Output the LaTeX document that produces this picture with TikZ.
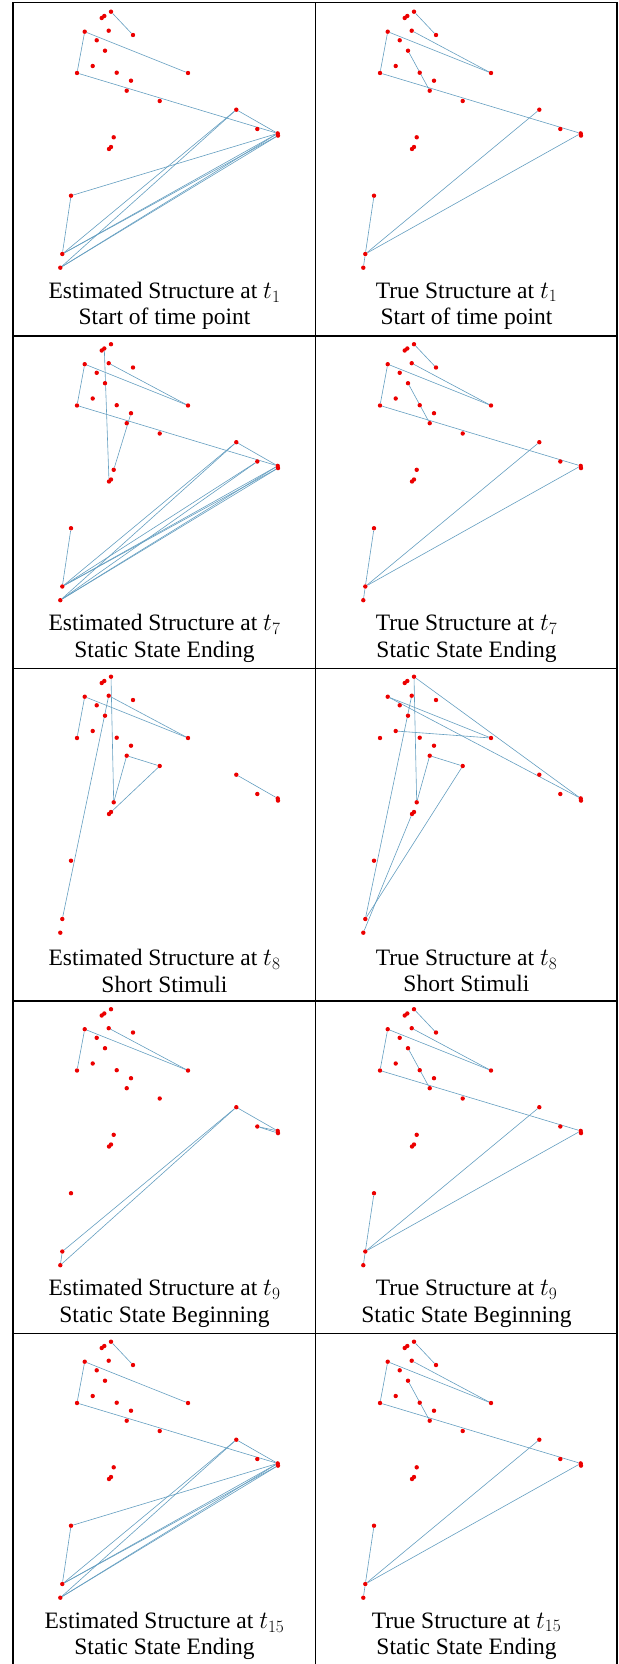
\documentclass[tikz,border=0pt]{standalone}
\usepackage{fontspec}
\setmainfont{Liberation Serif}
\usetikzlibrary{positioning}
\definecolor{dotred}{RGB}{235,0,0}
\definecolor{edgeblue}{RGB}{100,158,192}
\pgfdeclarelayer{bg}
\pgfsetlayers{bg,main}
\tikzset{
  vtx/.style={circle,fill=dotred,inner sep=0pt,minimum size=4.4pt},
  link/.style={draw=edgeblue,line width=0.6pt},
  tabrule/.style={draw=black,line width=1.2pt},
  capt/.style={align=center,font=\fontsize{23.5}{26.5}\selectfont},
}
% same dot layout in every panel
\newcommand{\dotlayout}{%
  \foreach \nm/\px/\py in {a/111.0/11.7, b/104.3/16.0, c/101.7/18.0, d/133.0/35.0,
      e/84.7/31.7, f/108.7/30.7, g/96.7/40.3, h/105.0/50.7, i/188.0/73.0,
      j/77.0/73.0, k/92.7/66.0, l/116.7/72.7, m/131.0/80.7, n/126.7/90.7,
      o/159.7/101.0, p/236.3/109.7, q/257.3/129.0, r/277.7/133.4, rr/278.0/135.6,
      s/113.7/137.3, t/111.0/147.0, u/109.0/149.0, v/71.0/195.7, w/62.3/254.0,
      x/60.3/267.7}
    \node[vtx] (\nm) at (\px,\py) {};
}
\newcommand{\graphlinks}[1]{%
  \edef\linklist{#1}%
  \begin{pgfonlayer}{bg}
    \foreach \src/\dst in \linklist
      \draw[link] (\src) -- (\dst);
  \end{pgfonlayer}
}
\newcommand{\graphpanel}[4]{% prefix, shift x, shift y, links
  \begin{scope}[shift={(#2,#3)},name prefix=#1-]
    \dotlayout
    \graphlinks{#4}
  \end{scope}
}
\newcommand{\truelinks}{a/d, f/i, e/i, e/j, h/n, j/r, p/w, r/w, v/w, w/x}
\newcommand{\estlinks}{a/d, e/i, e/j, j/r, p/r, p/w, p/x, r/v, v/w, r/w, rr/w, r/x, rr/x}

\begin{document}
\begin{tikzpicture}[x=1pt,y=-1pt]
\useasboundingbox (0,0) rectangle (618,1664);

% --- table rules ---
\draw[tabrule] (13,2.5) -- (617,2.5);
\foreach \yb in {336,668.5,1001,1333.5,1666}
  \draw[tabrule] (13,\yb) -- (617,\yb);
\draw[tabrule] (13,2.5) -- (13,1666);
\draw[tabrule] (315.5,2.5) -- (315.5,1666);
\draw[tabrule] (617,2.5) -- (617,1666);

% --- t1 ---
\graphpanel{E1}{0}{0}{\estlinks}
\graphpanel{T1}{303}{0}{\truelinks}
\node[capt] (capE1) at (164.5,306) {Estimated Structure at $t_1$\\Start of time point};
\node[capt] (capT1) at (466.5,306) {True Structure at $t_1$\\Start of time point};

% --- t7 ---
\graphpanel{E7}{0}{332.5}{b/u, f/i, e/i, e/j, j/r, m/s, p/r, p/w, p/x, q/w, q/x, r/w, rr/w, r/x, rr/x, v/w}
\graphpanel{T7}{303}{332.5}{\truelinks}
\node[capt] (capE7) at (164.5,638.5) {Estimated Structure at $t_7$\\Static State Ending};
\node[capt] (capT7) at (466.5,638.5) {True Structure at $t_7$\\Static State Ending};

% --- t8 ---
\graphpanel{E8}{0}{665}{a/s, f/i, e/i, e/j, f/w, n/o, n/s, o/u, p/r}
\graphpanel{T8}{303}{665}{a/r, a/s, e/i, e/r, k/i, f/w, n/o, n/s, o/w, u/x}
\node[capt] (capE8) at (164.5,971) {Estimated Structure at $t_8$\\Short Stimuli};
\node[capt] (capT8) at (466.5,971) {True Structure at $t_8$\\Short Stimuli};

% --- t9 ---
\graphpanel{E9}{0}{997.5}{f/i, e/i, e/j, p/w, p/x, p/r, q/r, q/rr, w/x}
\graphpanel{T9}{303}{997.5}{\truelinks}
\node[capt] (capE9) at (164.5,1303.5) {Estimated Structure at $t_9$\\Static State Beginning};
\node[capt] (capT9) at (466.5,1303.5) {True Structure at $t_9$\\Static State Beginning};

% --- t15 ---
\graphpanel{E15}{0}{1330}{\estlinks}
\graphpanel{T15}{303}{1330}{\truelinks}
\node[capt] (capE15) at (164.5,1636) {Estimated Structure at $t_{15}$\\Static State Ending};
\node[capt] (capT15) at (466.5,1636) {True Structure at $t_{15}$\\Static State Ending};
\end{tikzpicture}
\end{document}
